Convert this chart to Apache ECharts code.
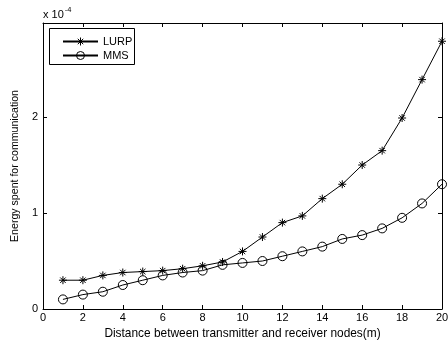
<!DOCTYPE html>
<html><head><meta charset="utf-8">
<script src="https://cdn.jsdelivr.net/npm/echarts@6/dist/echarts.min.js"></script>
<style>html,body{margin:0;padding:0;background:#fff}#c{width:448px;height:343px}</style>
</head><body><div id="c"></div>
<script>
const distances = [1,2,3,4,5,6,7,8,9,10,11,12,13,14,15,16,17,18,19,20];
// energy in units of 1e-4
const lurp = [0.30,0.30,0.35,0.38,0.39,0.40,0.42,0.45,0.49,0.60,0.75,0.90,0.97,1.15,1.30,1.50,1.65,1.99,2.39,2.79];
const mms  = [0.10,0.15,0.18,0.25,0.30,0.35,0.38,0.40,0.46,0.48,0.50,0.55,0.60,0.65,0.73,0.77,0.84,0.95,1.10,1.30];
const xTicks = [0,2,4,6,8,10,12,14,16,18,20];
const yTicks = [0,1,2];

const font = 'Liberation Sans, Arial, sans-serif';
const star = 'path://M5 0L5 10M0 5L10 5M1.6 1.6L8.4 8.4M8.4 1.6L1.6 8.4';
const chart = echarts.init(document.getElementById('c'), null, {renderer:'canvas'});
const axLine = {show:true, onZero:false, lineStyle:{color:'#000', width:1}};
const tick = {show:true, inside:true, length:4, lineStyle:{color:'#000'}};
chart.setOption({
  animation:false,
  backgroundColor:'#fff',
  grid:{left:43, right:6, top:23, bottom:34, containLabel:false, outerBoundsMode:'none'},
  legend:{
    orient:'vertical', left:57, top:31, itemWidth:35, itemHeight:10, itemGap:3,
    textStyle:{fontFamily:font, fontSize:11, color:'#000'},
    itemStyle:{borderWidth:1},
    data:['LURP','MMS']
  },
  xAxis:[{
    type:'value', min:0, max:20, interval:2,
    axisLine:axLine, axisTick:tick,
    axisLabel:{color:'#000', fontFamily:font, fontSize:11, margin:3,
      formatter:v=>xTicks.includes(v)?String(v):''},
    splitLine:{show:false},
    name:'Distance between transmitter and receiver nodes(m)', nameLocation:'middle', nameGap:16,
    nameTextStyle:{color:'#000', fontFamily:font, fontSize:11.9}
  },{
    type:'value', min:0, max:20, interval:2, position:'top',
    axisLine:axLine, axisTick:tick,
    axisLabel:{show:false}, splitLine:{show:false}
  }],
  yAxis:[{
    type:'value', min:0, max:2.98, interval:1,
    axisLine:axLine, axisTick:tick,
    axisLabel:{color:'#000', fontFamily:font, fontSize:11, margin:5, showMaxLabel:false,
      formatter:v=>yTicks.includes(v)?String(v):''},
    splitLine:{show:false},
    name:'Energy spent for communication', nameLocation:'middle', nameGap:19, nameRotate:90,
    nameTextStyle:{color:'#000', fontFamily:font, fontSize:10.6}
  },{
    type:'value', min:0, max:2.98, interval:1, position:'right',
    axisLine:axLine, axisTick:tick,
    axisLabel:{show:false}, splitLine:{show:false}
  }],
  graphic:[
    {type:'rect', left:49, top:28, shape:{width:85, height:36}, style:{fill:'#fff', stroke:'#000', lineWidth:1}, z:0},
    {type:'text', left:43, top:6, style:{text:'{a|x 10}{b|-4}', rich:{a:{fontFamily:font, fontSize:11, fill:'#000'}, b:{fontFamily:font, fontSize:7.5, fill:'#000', verticalAlign:'top', padding:[0,0,9,1]}}}}
  ],
  series:[
    {name:'LURP', type:'line', data:distances.map((d,i)=>[d,lurp[i]]),
     symbol:star, symbolSize:8, showSymbol:true,
     lineStyle:{color:'#000', width:1}, itemStyle:{color:'#000', borderColor:'#000', borderWidth:1}},
    {name:'MMS', type:'line', data:distances.map((d,i)=>[d,mms[i]]),
     symbol:'circle', symbolSize:9, showSymbol:true,
     lineStyle:{color:'#000', width:1}, itemStyle:{color:'rgba(0,0,0,0)', borderColor:'#000', borderWidth:1}}
  ]
});
</script></body></html>
